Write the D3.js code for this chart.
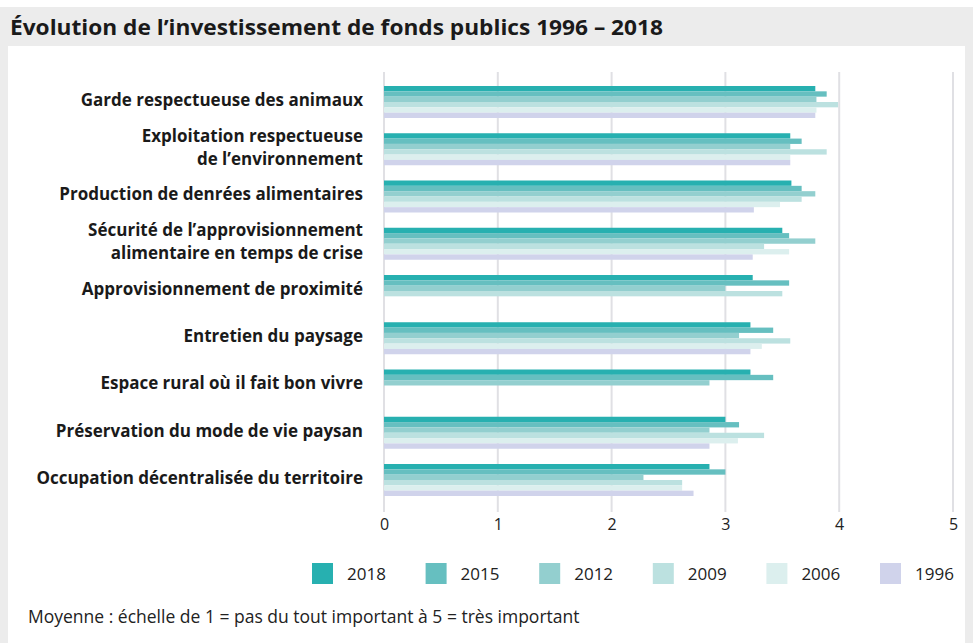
<!DOCTYPE html>
<html lang="fr">
<head>
<meta charset="utf-8">
<script src="https://cdn.jsdelivr.net/npm/d3@7"></script>
<style>
  html, body { margin: 0; padding: 0; background: #fff; }
  svg { display: block; font-family: "Open Sans", "Noto Sans", sans-serif; }
</style>
</head>
<body>
<svg id="chart" width="973" height="643"></svg>
<script>
// Survey categories (top to bottom); "\n" splits a label onto two lines
const categories = [
  "Garde respectueuse des animaux",
  "Exploitation respectueuse\nde l’environnement",
  "Production de denrées alimentaires",
  "Sécurité de l’approvisionnement\nalimentaire en temps de crise",
  "Approvisionnement de proximité",
  "Entretien du paysage",
  "Espace rural où il fait bon vivre",
  "Préservation du mode de vie paysan",
  "Occupation décentralisée du territoire"
];

// Survey years, in bar order within each group
const years = ["2018", "2015", "2012", "2009", "2006", "1996"];

// Mean scores per year (null = question not asked that year)
const values2018 = [3.79, 3.57, 3.58, 3.50, 3.24, 3.22, 3.22, 3.00, 2.86];
const values2015 = [3.89, 3.67, 3.67, 3.56, 3.56, 3.42, 3.42, 3.12, 3.00];
const values2012 = [3.80, 3.57, 3.79, 3.79, 3.00, 3.12, 2.86, 2.86, 2.28];
const values2009 = [3.99, 3.89, 3.67, 3.34, 3.50, 3.57, null, 3.34, 2.62];
const values2006 = [3.80, 3.57, 3.48, 3.56, null, 3.32, null, 3.11, 2.62];
const values1996 = [3.79, 3.57, 3.25, 3.24, null, 3.22, null, 2.86, 2.72];

const seriesValues = [values2018, values2015, values2012, values2009, values2006, values1996];
const seriesColors = ["#27b0b0", "#66bfc0", "#93cfcf", "#bce1e0", "#dcefee", "#d0d3eb"];

const xTicks = [0, 1, 2, 3, 4, 5];
const title = "Évolution de l’investissement de fonds publics 1996 – 2018";
const footnote = "Moyenne : échelle de 1 = pas du tout important à 5 = très important";

const svg = d3.select("#chart");
const W = 973, H = 643;

// Frame: grey band with the title, white panel below
svg.append("rect").attr("x", 0).attr("y", 7).attr("width", W).attr("height", H - 7).attr("fill", "#ececec");
svg.append("rect").attr("x", 8).attr("y", 46).attr("width", W - 16).attr("height", H - 46).attr("fill", "#fff");

svg.append("text")
  .attr("x", 10).attr("y", 35)
  .attr("font-size", 22).attr("font-weight", 700).attr("fill", "#1a1a1a")
  .attr("textLength", 653).attr("lengthAdjust", "spacingAndGlyphs")
  .text(title);

// Scales
const x = d3.scaleLinear().domain([0, 5]).range([384, 953]);
const y = d3.scaleBand().domain(categories).range([86, 496]).paddingInner(0.3228).paddingOuter(0);
const ySub = d3.scaleBand().domain(years).range([0, y.bandwidth()]).padding(0);
const color = d3.scaleOrdinal().domain(years).range(seriesColors);

// Vertical grid lines running down to the axis labels
const grid = svg.append("g");
grid.selectAll("line").data(xTicks).join("line")
  .attr("x1", d => x(d)).attr("x2", d => x(d))
  .attr("y1", 72).attr("y2", 512)
  .attr("stroke", "#e0e0e4").attr("stroke-width", 2);

// x axis labels
const xAxis = d3.axisBottom(x).tickValues(xTicks).tickFormat(d3.format("d")).tickSize(0).tickPadding(0);
const axisG = svg.append("g").attr("transform", "translate(0,519)").call(xAxis);
axisG.select(".domain").remove();
axisG.selectAll("text")
  .attr("font-family", "'Open Sans', 'Noto Sans', sans-serif")
  .attr("font-size", 16).attr("fill", "#222").attr("dy", "0.71em");

// Bars
const rows = [];
categories.forEach((c, i) => {
  years.forEach((yr, j) => {
    const v = seriesValues[j][i];
    if (v != null) rows.push({ cat: c, year: yr, value: v });
  });
});

svg.append("g").selectAll("rect").data(rows).join("rect")
  .attr("x", x(0))
  .attr("y", d => y(d.cat) + ySub(d.year))
  .attr("width", d => x(d.value) - x(0))
  .attr("height", ySub.bandwidth())
  .attr("fill", d => color(d.year));

// Category labels, right-aligned against the plot
const labels = svg.append("g").selectAll("text").data(categories).join("text")
  .attr("x", 363)
  .attr("y", d => y(d) + y.bandwidth() / 2 - 2)
  .attr("text-anchor", "end")
  .attr("font-size", 17).attr("font-weight", 700).attr("fill", "#1a1a1a");
labels.each(function(d) {
  const lines = d.split("\n");
  const t = d3.select(this);
  lines.forEach((ln, k) => {
    t.append("tspan")
      .attr("x", 363)
      .attr("dy", k === 0 ? ((-(lines.length - 1) / 2) * 1.36 + 0.35) + "em" : "1.36em")
      .text(ln);
  });
});

// Legend
const legend = svg.append("g").selectAll("g").data(years).join("g")
  .attr("transform", (d, i) => `translate(${312 + i * 113.6},563)`);
legend.append("rect").attr("width", 21).attr("height", 21).attr("fill", d => color(d));
legend.append("text")
  .attr("x", 35).attr("y", 11).attr("dy", "0.35em")
  .attr("font-size", 17).attr("fill", "#222")
  .text(d => d);

// Footnote
svg.append("text")
  .attr("x", 28).attr("y", 623)
  .attr("font-size", 17.5).attr("fill", "#222")
  .text(footnote);
</script>
</body>
</html>
